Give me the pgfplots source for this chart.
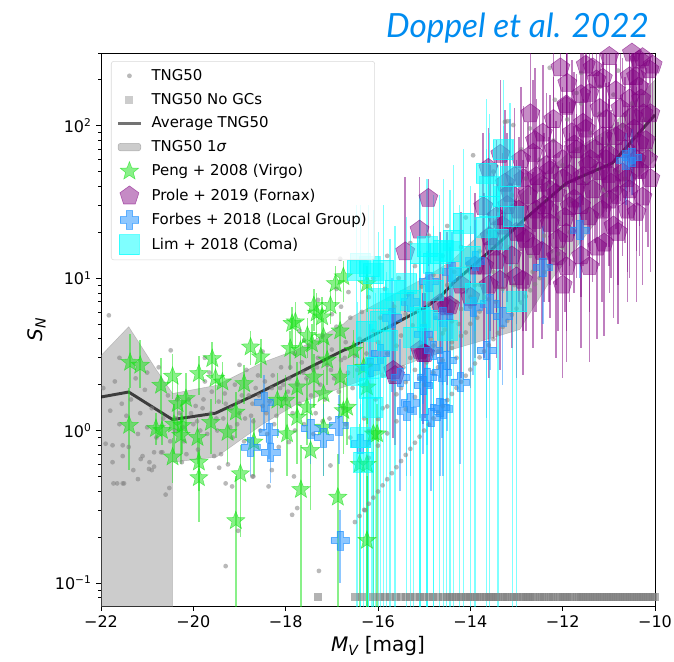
\documentclass[border=0pt]{standalone}
\usepackage{fontspec}
\setmainfont{DejaVu Sans}
\newfontfamily\titlefont{Lato}
\usepackage{pgfplots}
\usepackage{pgfplotstable}
\pgfplotsset{compat=1.18}

\definecolor{pgreen}{RGB}{20,225,20}
\definecolor{ppurple}{RGB}{128,0,128}
\definecolor{pblue}{RGB}{30,144,255}
\definecolor{pcyan}{RGB}{0,255,255}
\definecolor{tblue}{RGB}{0,140,240}

\pgfdeclareplotmark{fstar}{%
  \pgfpathmoveto{\pgfpointpolar{90}{\pgfplotmarksize}}%
  \pgfpathlineto{\pgfpointpolar{126}{0.42\pgfplotmarksize}}%
  \pgfpathlineto{\pgfpointpolar{162}{\pgfplotmarksize}}%
  \pgfpathlineto{\pgfpointpolar{198}{0.42\pgfplotmarksize}}%
  \pgfpathlineto{\pgfpointpolar{234}{\pgfplotmarksize}}%
  \pgfpathlineto{\pgfpointpolar{270}{0.42\pgfplotmarksize}}%
  \pgfpathlineto{\pgfpointpolar{306}{\pgfplotmarksize}}%
  \pgfpathlineto{\pgfpointpolar{342}{0.42\pgfplotmarksize}}%
  \pgfpathlineto{\pgfpointpolar{18}{\pgfplotmarksize}}%
  \pgfpathlineto{\pgfpointpolar{54}{0.42\pgfplotmarksize}}%
  \pgfpathclose
  \pgfusepathqfillstroke
}
\pgfdeclareplotmark{fplus}{%
  \pgfpathmoveto{\pgfpoint{-0.34\pgfplotmarksize}{\pgfplotmarksize}}%
  \pgfpathlineto{\pgfpoint{0.34\pgfplotmarksize}{\pgfplotmarksize}}%
  \pgfpathlineto{\pgfpoint{0.34\pgfplotmarksize}{0.34\pgfplotmarksize}}%
  \pgfpathlineto{\pgfpoint{\pgfplotmarksize}{0.34\pgfplotmarksize}}%
  \pgfpathlineto{\pgfpoint{\pgfplotmarksize}{-0.34\pgfplotmarksize}}%
  \pgfpathlineto{\pgfpoint{0.34\pgfplotmarksize}{-0.34\pgfplotmarksize}}%
  \pgfpathlineto{\pgfpoint{0.34\pgfplotmarksize}{-\pgfplotmarksize}}%
  \pgfpathlineto{\pgfpoint{-0.34\pgfplotmarksize}{-\pgfplotmarksize}}%
  \pgfpathlineto{\pgfpoint{-0.34\pgfplotmarksize}{-0.34\pgfplotmarksize}}%
  \pgfpathlineto{\pgfpoint{-\pgfplotmarksize}{-0.34\pgfplotmarksize}}%
  \pgfpathlineto{\pgfpoint{-\pgfplotmarksize}{0.34\pgfplotmarksize}}%
  \pgfpathlineto{\pgfpoint{-0.34\pgfplotmarksize}{0.34\pgfplotmarksize}}%
  \pgfpathclose
  \pgfusepathqfillstroke
}

% Peng + 2008 (Virgo)
\pgfplotstableread[row sep=\\]{
x y lo hi\\
-21.37 2.80 1.9 4.3\\ -21.15 2.68 1.9 3.9\\ -20.70 1.98 1.3 3.0\\ -20.45 2.27 1.6 3.2\\
-21.39 1.08 0.55 1.9\\ -20.81 1.03 0.8 1.3\\ -20.68 1.00 0.8 1.3\\ -20.34 1.50 1.0 2.2\\
-20.16 1.62 1.0 2.4\\ -19.88 2.36 1.7 3.1\\ -19.59 2.96 2.2 3.8\\ -19.52 2.20 1.5 3.0\\
-19.37 2.08 1.5 2.8\\ -18.76 3.53 2.7 4.5\\ -18.54 3.04 2.2 4.0\\ -18.90 2.03 1.5 2.7\\
-17.86 5.04 3.5 6.5\\ -17.90 3.45 2.5 4.5\\ -18.00 1.58 0.9 2.3\\ -19.08 1.32 0.9 1.8\\
-19.62 1.13 0.7 1.6\\ -20.42 1.10 0.7 1.5\\ -20.27 0.93 0.6 1.3\\ -19.91 0.90 0.6 1.2\\
-19.26 0.97 0.6 1.4\\ -18.69 0.84 0.5 1.2\\ -20.24 1.08 0.7 1.5\\ -20.45 0.67 0.45 0.9\\
-19.88 0.62 0.4 0.9\\ -19.88 0.49 0.25 0.75\\ -18.98 0.52 0.2 0.8\\ -19.08 0.256 0.05 0.5\\
-17.67 0.41 0.05 0.8\\ -16.87 0.365 0.05 0.7\\ -16.24 0.19 0.05 0.5\\ -16.02 0.95 0.05 1.5\\
-16.40 0.60 0.05 1.1\\ -17.33 5.9 4 8\\ -17.53 4.2 3 5.5\\ -17.03 6.6 5 8.5\\
-16.75 10.2 7 13\\ -16.92 9.2 6.5 12\\ -16.24 9.2 6 12\\ -17.39 6.6 4.5 8.5\\
-17.79 5.16 3.5 7\\ -17.21 5.56 4 7.5\\ -17.18 4.1 2.8 5.5\\ -16.82 4.5 3 6\\
-17.43 3.7 2.5 5\\ -17.68 3.36 2.3 4.6\\ -17.10 2.9 2 4\\ -16.53 3.36 2.2 4.6\\
-17.39 2.24 1.4 3.2\\ -16.82 2.24 1.4 3.2\\ -17.75 1.93 1.2 2.8\\ -17.18 1.74 1.1 2.5\\
-16.31 2.6 1.6 3.8\\ -16.24 1.93 1.1 3\\ -17.54 1.42 0.8 2.2\\ -16.67 1.42 0.8 2.2\\
-18.18 1.58 0.9 2.4\\ -16.75 1.35 0.7 2.1\\ -16.10 0.95 0.05 1.6\\ -17.18 1.05 0.5 1.7\\
-17.46 0.74 0.3 1.3\\ -17.97 0.95 0.5 1.5\\ -17.75 1.22 0.6 1.9\\ -16.24 0.60 0.05 1.2\\
}\peng

% Prole + 2019 (Fornax)
\pgfplotstableread[row sep=\\]{
x y lo hi\\
-15.41 14.9 6 46\\ -15.10 20.7 8 46\\ -14.91 33.4 12 45\\ -13.61 52.6 18 96\\
-14.44 6.6 2.5 16\\ -14.98 3.2 1.2 8\\ -13.04 46.4 14 130\\ -12.43 89.5 25 250\\
-11.92 134 40 400\\ -11.27 200 60 500\\ -10.99 285 80 600\\ -10.55 210 60 500\\
-10.27 280 90 600\\ -12.57 28 6 90\\ -12.28 38 9 120\\ -11.70 69.5 18 220\\
-11.56 104 30 300\\ -11.13 85 25 260\\ -10.48 115 35 350\\ -10.34 77 22 250\\
-10.70 49 14 160\\ -12.14 13.8 3 45\\ -11.92 19.7 4.5 60\\ -11.42 25.3 6 80\\
-10.99 32.5 8 100\\ -12.64 16.1 3.5 50\\ -13.00 10.2 2.2 32\\ -13.43 13.1 3 40\\
-12.86 19.7 4.5 60\\ -12.28 51 12 160\\ -12.64 66 16 200\\ -12.57 46.5 11 150\\
-13.14 36 9 110\\ -13.72 29.5 7 90\\ -13.43 25.3 6 80\\ -14.51 6.5 2 20\\
-15.09 3.36 1.2 9\\ -15.67 2.48 0.9 7\\ -14.66 6.8 2.2 20\\ -13.58 18.7 4.5 55\\
-13.36 9.7 2.5 30\\ -12.86 9.7 2.3 30\\ -10.34 51 14 160\\ -10.12 233 70 500\\
-11.06 60 16 190\\ -11.56 46.5 12 150\\ -11.85 29.5 7 90\\ -12.28 22.9 5.5 70\\
-11.42 11.9 2.8 38\\ -11.92 11.9 2.8 38\\ -10.55 38 10 120\\ -10.27 34 9 110\\
-15.63 2.3 0.8 6\\ -15.02 3.2 1.1 8\\ -13.20 30 7 90\\ -12.90 60 15 180\\
-12.70 120 35 350\\ -12.40 30 7 90\\ -12.20 70 18 210\\ -12.00 45 11 140\\
-11.80 90 25 270\\ -11.60 160 45 450\\ -11.40 60 15 180\\ -11.20 130 38 400\\
-11.00 48 12 150\\ -10.85 170 50 500\\ -10.70 90 25 280\\ -10.50 300 90 600\\
-10.30 150 45 450\\ -10.15 60 16 190\\ -10.10 120 35 380\\ -12.05 240 70 600\\
-11.35 240 70 600\\ -11.75 33 8 100\\ -11.25 16 4 50\\ -10.90 22 5.5 70\\
-10.60 28 7 90\\ -13.35 65 18 200\\ -11.13 205 60 500\\ -10.41 210 60 500\\
-10.34 270 80 600\\ -11.42 163 45 450\\ -11.92 137 40 400\\
-13.70 12 3 36\\ -13.50 16 4 48\\ -13.30 22 5.5 66\\ -13.10 14 3.5 42\\
-12.95 28 7 84\\ -12.80 18 4.5 54\\ -12.75 35 9 105\\ -12.60 24 6 72\\
-12.50 42 10 126\\ -12.45 15 4 45\\ -12.35 55 14 165\\ -12.30 28 7 84\\
-12.15 36 9 108\\ -12.10 18 4.5 54\\ -12.00 60 15 180\\ -11.95 25 6 75\\
-11.85 48 12 144\\ -11.75 75 19 225\\ -11.70 40 10 120\\ -11.60 30 7.5 90\\
-11.50 95 24 285\\ -11.45 55 14 165\\ -11.35 38 9.5 114\\ -11.30 70 17 210\\
-11.20 50 12 150\\ -11.15 28 7 84\\ -11.05 110 27 330\\ -11.00 65 16 195\\
-10.95 42 10 126\\ -10.85 85 21 255\\ -10.80 35 9 105\\ -10.75 130 32 390\\
-10.65 70 17 210\\ -10.60 45 11 135\\ -10.55 150 37 450\\ -10.45 95 24 285\\
-10.40 60 15 180\\ -10.35 180 45 540\\ -10.25 120 30 360\\ -10.20 80 20 240\\
-10.10 45 11 135\\ -10.05 250 62 600\\ -12.60 80 20 240\\ -12.20 110 27 330\\
-11.90 190 47 570\\ -11.50 250 62 600\\ -13.00 20 5 60\\ -13.25 42 10 126\\
-12.85 45 11 135\\ -13.60 9 2.2 27\\ -14.00 7.5 1.9 22\\ -14.20 9 2.2 27\\
-13.90 12 3 36\\ -12.00 9 2.2 27\\ -11.60 14 3.5 42\\ -11.10 17 4.2 51\\
-10.80 20 5 60\\ -10.40 27 7 81\\
}\prole

% Forbes + 2018 (Local Group)
\pgfplotstableread[row sep=\\]{
x y lo hi\\
-18.47 1.54 1.0 2.3\\ -18.36 0.97 0.65 1.5\\ -18.76 0.78 0.5 1.2\\ -18.33 0.72 0.45 1.1\\
-17.46 1.03 0.6 1.6\\ -17.18 0.90 0.5 1.5\\ -16.85 1.08 0.6 1.7\\ -16.82 0.19 0.1 0.3\\
-16.38 0.82 0.3 1.5\\ -15.30 1.52 0.5 2.8\\ -14.85 1.22 0.4 2.5\\ -14.59 1.39 0.5 2.7\\
-14.66 1.42 0.5 2.8\\ -15.02 1.98 0.7 3.5\\ -14.62 2.42 0.9 4.5\\ -14.22 2.08 0.6 4.5\\
-15.52 2.24 0.4 4.0\\ -14.51 2.89 1.0 5.5\\ -13.65 3.36 1.2 6.5\\ -10.63 59.6 30 90\\
-10.50 62 35 95\\ -11.63 20.7 10 35\\ -12.43 11.8 5 22\\ -13.58 6.8 2.5 13\\
-13.30 5.6 2 11\\ -13.94 6.5 2.3 12\\ -14.80 3.36 1.2 6.5\\ -15.02 4.3 1.5 8\\
-14.60 5.6 2 11\\ -14.94 2.24 0.8 4.5\\ -15.38 1.35 0.5 2.7\\ -15.95 3.2 1.0 6\\
-16.17 2.6 0.8 5\\ -15.70 5.5 1.8 10\\ -15.30 7.0 2.4 13\\ -14.90 9.5 3.3 17\\
-14.40 11 4 20\\ -13.90 13 4.5 24\\
}\forbes

% Lim + 2018 (Coma)
\pgfplotstableread[row sep=\\]{
x y lo hi\\
-16.38 12.5 0.05 30\\ -16.10 10.7 0.05 28\\ -15.99 7.35 0.05 20\\ -15.63 8.3 0.05 22\\
-15.74 6.8 0.05 18\\ -15.30 7.2 0.05 20\\ -15.09 14.5 0.05 35\\ -14.66 14.5 0.05 35\\
-14.44 14.9 0.05 38\\ -14.80 8.3 0.05 22\\ -15.09 5.56 0.05 15\\ -14.51 4.54 0.05 14\\
-16.13 1.42 0.05 5\\ -16.38 0.90 0.05 3.5\\ -16.31 0.62 0.05 2.8\\ -13.29 69.6 20 200\\
-13.65 48.8 15 150\\ -13.14 46.4 12 140\\ -13.58 39.8 10 120\\ -13.29 34.2 8 100\\
-13.58 29.5 0.05 90\\ -13.08 25.3 0.05 80\\ -13.65 21.7 0.05 70\\ -14.15 22.9 0.05 70\\
-14.37 17.7 0.05 55\\ -14.59 15.3 0.05 45\\ -14.94 16.1 0.05 45\\ -15.88 11.3 0.05 30\\
-14.80 12.5 0.05 35\\ -14.23 10.2 0.05 30\\ -15.38 9.2 0.05 25\\ -14.94 5.3 0.05 15\\
-15.23 4.1 0.05 12\\ -15.81 3.9 0.05 11\\ -16.20 1.9 0.05 6\\ -16.05 2.6 0.05 8\\
-16.45 2.3 0.05 7\\ -16.25 4.5 0.05 12\\ -15.95 5.2 0.05 14\\ -16.46 11.3 0.05 30\\
-16.20 11.9 0.05 30\\ -13.90 8.0 0.05 25\\ -14.00 14 0.05 40\\ -13.40 18 0.05 55\\
-13.00 7 0.05 22\\
}\lim

\begin{document}
\begin{tikzpicture}
\path[use as bounding box] (-75.75pt,-41.25pt) rectangle (429.75pt,454.5pt);
\begin{axis}[
  at={(0pt,0pt)}, anchor=south west,
  scale only axis, width=415.5pt, height=414.75pt,
  xmin=-22, xmax=-10, ymode=log, ymin=0.0706, ymax=300,
  xtick={-22,-20,-18,-16,-14,-12,-10},
  xticklabels={−22,−20,−18,−16,−14,−12,−10},
  ytick={0.1,1,10,100},
  yticklabels={10\textsuperscript{−1},10\textsuperscript{0},10\textsuperscript{1},10\textsuperscript{2}},
  minor ytick={0.08,0.09,0.2,0.3,0.4,0.5,0.6,0.7,0.8,0.9,2,3,4,5,6,7,8,9,20,30,40,50,60,70,80,90,200,300},
  tick align=outside, tick pos=left,
  major tick length=3.5pt, minor tick length=2pt,
  tick style={black, line width=0.6pt},
  axis line style={line width=0.6pt},
  tick label style={font=\fontsize{12}{14}\selectfont},
  xlabel={{\itshape M}\textsubscript{\itshape V} [mag]},
  ylabel={{\itshape S}\textsubscript{\itshape N}},
  label style={font=\fontsize{15}{18}\selectfont},
  legend cell align=left,
  legend style={at={(rel axis cs:0.018,0.9855)}, anchor=north west,
    font=\fontsize{11.2}{13}\selectfont, draw=black!15, rounded corners=2pt,
    fill=white, fill opacity=0.8, text opacity=1, row sep=4pt,
    inner xsep=4pt, inner ysep=4pt,
    /tikz/every odd column/.append style={column sep=5pt}},
]
% legend images
\addlegendimage{only marks, mark=*, mark size=1.8pt, color=gray, mark options={fill opacity=0.55, draw opacity=0}}
\addlegendentry{TNG50}
\addlegendimage{only marks, mark=square*, mark size=3pt, color=gray, mark options={fill opacity=0.4, draw opacity=0}}
\addlegendentry{TNG50 No GCs}
\addlegendimage{black, opacity=0.55, line width=2.2pt}
\addlegendentry{Average TNG50}
\addlegendimage{area legend, fill=gray, fill opacity=0.4, draw=gray, draw opacity=0.5}
\addlegendentry{TNG50 1{\itshape σ}}
\addlegendimage{only marks, mark=fstar, mark size=7.2pt, mark options={fill=pgreen, draw=pgreen, fill opacity=0.5, draw opacity=0.6}}
\addlegendentry{Peng + 2008 (Virgo)}
\addlegendimage{only marks, mark=pentagon*, mark size=7.5pt, mark options={fill=ppurple, draw=ppurple, fill opacity=0.45, draw opacity=0.55}}
\addlegendentry{Prole + 2019 (Fornax)}
\addlegendimage{only marks, mark=fplus, mark size=7pt, mark options={fill=pblue, draw=pblue, fill opacity=0.5, draw opacity=0.6}}
\addlegendentry{Forbes + 2018 (Local Group)}
\addlegendimage{only marks, mark=square*, mark size=7.5pt, mark options={fill=pcyan, draw=pcyan, fill opacity=0.5, draw opacity=0.6}}
\addlegendentry{Lim + 2018 (Coma)}

% TNG50 galaxies
\addplot[forget plot, only marks, mark=*, mark size=1.8pt, color=gray, mark options={fill opacity=0.55, draw opacity=0}] coordinates {
(-21.95,1.9) (-21.9,0.82) (-21.83,5.7) (-21.8,1.35) (-21.75,0.62) (-21.7,2.1) (-21.65,0.45) (-21.6,1.1)
(-21.55,1.5) (-21.5,0.45) (-21.45,1.25) (-21.4,0.78) (-21.35,1.6) (-21.3,0.55) (-21.25,2.2) (-21.2,0.95)
(-21.15,1.3) (-21.1,0.68) (-21.05,1.85) (-21.0,1.05) (-20.95,0.62) (-20.9,1.4) (-20.85,0.58) (-20.8,0.9)
(-20.75,2.6) (-20.7,0.72) (-20.65,1.2) (-20.6,0.38) (-20.55,1.7) (-20.5,0.85) (-21.6,3.0) (-21.2,0.48)
(-20.9,0.55) (-21.0,2.4) (-21.75,0.8) (-21.53,0.8) (-21.53,0.68) (-21.73,0.45) (-21.53,0.45) (-21.14,0.65)
(-20.96,0.56) (-20.52,0.42) (-20.85,0.72) (-20.67,0.72) (-20.49,3.36)
(-20.4,1.0) (-20.3,1.3) (-20.2,0.85) (-20.1,1.6) (-20.0,1.1) (-19.9,0.75) (-19.8,1.4) (-19.7,0.95)
(-19.6,1.8) (-19.5,1.2) (-19.4,0.7) (-19.3,1.5) (-19.2,1.05) (-19.1,2.0) (-19.0,1.3) (-18.9,0.85)
(-18.8,1.7) (-18.7,1.15) (-18.6,2.3) (-18.5,1.45) (-18.4,0.95) (-18.3,1.9) (-18.2,1.25) (-18.1,2.6)
(-18.0,1.6) (-20.35,1.6) (-20.15,0.7) (-19.95,1.45) (-19.75,2.1) (-19.55,0.68) (-19.35,1.2) (-19.15,0.9)
(-18.95,1.7) (-18.75,1.25) (-18.55,1.0) (-18.35,1.55) (-18.15,0.78) (-20.25,0.62) (-19.85,1.0) (-19.45,1.55)
(-19.05,1.1) (-18.65,1.9) (-18.25,1.1) (-18.05,2.0) (-19.65,2.4) (-19.25,0.6) (-18.85,2.5) (-18.45,2.1)
(-19.75,3.0) (-19.0,2.7) (-18.5,3.3) (-18.3,0.55) (-18.7,0.5) (-19.3,0.45)
(-19.3,0.129) (-19.44,0.57) (-19.16,0.43) (-18.72,0.5) (-19.03,0.22) (-18.37,0.43) (-17.93,0.84) (-17.86,0.28)
(-17.75,0.31) (-17.82,0.5) (-17.28,0.12) (-16.28,0.30) (-17.03,0.59)
(-20.38,1.2) (-20.22,1.05) (-20.05,1.3) (-19.92,1.15) (-19.78,1.6) (-19.62,1.3) (-19.48,1.0) (-19.32,1.75)
(-19.18,1.4) (-19.02,1.55) (-18.88,1.2) (-18.72,1.5) (-18.58,1.7) (-18.42,1.3) (-18.28,2.3) (-18.12,1.9)
(-17.95,1.8) (-17.9,2.6) (-17.85,1.3) (-17.8,3.2) (-17.75,2.0) (-17.7,1.5) (-17.65,2.8) (-17.6,1.1)
(-17.55,2.2) (-17.5,3.6) (-17.45,1.7) (-17.4,2.5) (-17.35,1.3) (-17.3,3.0) (-17.25,2.0) (-17.2,4.2)
(-17.15,1.6) (-17.1,2.7) (-17.05,1.2) (-17.0,3.4) (-16.95,2.2) (-16.9,4.8) (-16.85,1.8) (-16.8,2.9)
(-16.75,1.4) (-16.7,3.8) (-16.65,2.4) (-16.6,5.5) (-16.55,1.9) (-16.5,3.1) (-17.8,1.0) (-17.6,3.9)
(-17.4,0.95) (-17.2,1.15) (-17.0,5.8) (-16.8,6.5) (-16.6,0.9) (-17.3,7.2) (-16.9,8.5) (-17.7,4.5)
(-16.7,1.1) (-16.82,13.4) (-16.64,8.1) (-17.92,2.2) (-17.62,2.4) (-17.32,2.6) (-17.02,2.5) (-16.72,3.0)
(-16.45,2.5) (-16.4,4.0) (-16.35,6.0) (-16.3,2.0) (-16.25,3.2) (-16.2,7.5) (-16.15,2.7) (-16.1,4.5)
(-16.05,1.6) (-16.0,3.8) (-15.95,5.5) (-15.9,2.3) (-15.85,8.5) (-15.8,3.2) (-15.75,4.8) (-15.7,2.1)
(-15.65,6.5) (-15.6,3.6) (-15.55,10) (-15.5,4.2) (-15.45,2.6) (-15.4,5.8) (-15.35,7.8) (-15.3,3.0)
(-15.25,4.9) (-15.2,12) (-15.15,6.2) (-15.1,3.5) (-15.05,8.8) (-15.0,5.0) (-14.95,2.8) (-14.9,6.8)
(-14.85,4.0) (-14.8,10.5) (-14.75,5.5) (-14.7,3.3) (-14.65,7.5) (-14.6,14) (-14.55,4.6) (-14.5,9.0)
(-14.45,6.0) (-14.4,3.8) (-14.35,11) (-14.3,7.0) (-14.25,5.0) (-14.2,16) (-14.15,8.5) (-14.1,4.4)
(-14.05,12.5) (-14.0,6.5) (-16.3,1.2) (-15.9,1.4) (-15.5,1.9) (-15.1,2.2) (-14.7,2.6) (-14.3,3.0)
(-15.8,14) (-15.3,17) (-14.9,19) (-14.5,22) (-14.1,25) (-16.1,10) (-13.94,64) (-13.2,107)
(-13.25,106) (-13.07,101)
(-13.9,9) (-13.8,15) (-13.7,7.5) (-13.6,20) (-13.5,11) (-13.4,28) (-13.3,8.5) (-13.2,16)
(-13.1,35) (-13.0,12) (-12.9,22) (-12.8,45) (-12.7,14) (-12.6,30) (-12.5,60) (-12.4,19)
(-12.3,40) (-12.2,80) (-12.1,25) (-12.0,55) (-11.9,110) (-11.8,32) (-11.7,70) (-11.6,140)
(-11.5,42) (-11.4,90) (-11.3,55) (-11.2,120) (-11.1,38) (-11.0,75) (-10.9,160) (-10.8,50)
(-10.7,100) (-10.6,65) (-10.5,140) (-10.4,85) (-10.3,200) (-10.2,110) (-10.1,70) (-13.85,5.5)
(-13.45,7) (-13.05,9) (-12.65,11) (-12.25,15) (-11.85,20) (-11.45,28) (-11.05,35) (-10.65,45)
(-10.25,60) (-12.28,240) (-11.6,222) (-12.17,148) (-12.71,96) (-11.2,180) (-10.8,230) (-12.9,70)
(-13.5,50) (-11.7,164)
(-16.5,0.251) (-16.4,0.275) (-16.3,0.302) (-16.2,0.331) (-16.1,0.363) (-16.0,0.398) (-15.9,0.437) (-15.8,0.479)
(-15.7,0.525) (-15.6,0.575) (-15.5,0.631) (-15.4,0.692) (-15.3,0.759) (-15.2,0.832) (-15.1,0.912) (-15.0,1.0)
(-14.9,1.096) (-14.8,1.202) (-14.7,1.318) (-14.6,1.445) (-14.5,1.585) (-14.4,1.738) (-14.3,1.905) (-14.2,2.089)
(-14.1,2.291) (-14.0,2.512) (-13.9,2.754) (-13.8,3.020) (-13.7,3.311) (-13.6,3.631) (-13.5,3.981) (-13.4,4.365)
(-13.3,4.786) (-13.2,5.248) (-13.1,5.754) (-13.0,6.310) (-12.9,6.918) (-12.8,7.586) (-12.7,8.318) (-12.6,9.120)
(-12.5,10) (-12.4,10.96) (-12.3,12.02) (-12.2,13.18) (-12.1,14.45) (-12.0,15.85)
(-16.2,0.662) (-16.0,0.796) (-15.8,0.958) (-15.6,1.15) (-15.4,1.38) (-15.2,1.66) (-15.0,2.0) (-14.8,2.40)
(-14.6,2.89) (-14.4,3.48) (-14.2,4.18) (-14.0,5.02) (-13.8,6.04) (-13.6,7.26) (-13.4,8.73) (-13.2,10.5)
(-16.2,0.993) (-16.0,1.19) (-15.8,1.44) (-15.6,1.73) (-15.4,2.08) (-15.2,2.50) (-15.0,3.0) (-14.8,3.61)
(-14.6,4.34) (-14.4,5.21) (-14.2,6.27) (-14.0,7.54) (-13.8,9.06)
};

% TNG50 without GCs
\addplot[forget plot, only marks, mark=square*, mark size=3pt, color=gray, mark options={fill opacity=0.6, draw opacity=0}] coordinates {
(-17.3,0.081) (-16.5,0.081) (-16.35,0.081) (-16.1,0.081) (-15.95,0.081) (-15.85,0.081) (-15.75,0.081)
(-15.6,0.081) (-15.5,0.081) (-15.4,0.081) (-15.3,0.081) (-15.2,0.081) (-15.1,0.081) (-15.0,0.081) (-14.9,0.081)
(-14.8,0.081) (-14.7,0.081) (-14.6,0.081) (-14.5,0.081) (-14.4,0.081) (-14.3,0.081) (-14.2,0.081) (-14.1,0.081)
(-14.0,0.081) (-13.9,0.081) (-13.8,0.081) (-13.7,0.081) (-13.6,0.081) (-13.5,0.081) (-13.4,0.081) (-13.3,0.081)
(-13.2,0.081) (-13.1,0.081) (-13.0,0.081) (-12.9,0.081) (-12.8,0.081) (-12.7,0.081) (-12.6,0.081) (-12.5,0.081)
(-12.4,0.081) (-12.3,0.081) (-12.2,0.081) (-12.1,0.081) (-12.0,0.081) (-11.9,0.081) (-11.8,0.081) (-11.7,0.081)
(-11.6,0.081) (-11.5,0.081) (-11.4,0.081) (-11.3,0.081) (-11.2,0.081) (-11.1,0.081) (-11.0,0.081) (-10.9,0.081)
(-10.8,0.081) (-10.7,0.081) (-10.6,0.081) (-10.5,0.081) (-10.4,0.081) (-10.3,0.081) (-10.2,0.081) (-10.1,0.081)
(-10.0,0.081) (-14.45,0.081) (-14.05,0.081) (-13.65,0.081) (-13.25,0.081) (-12.85,0.081) (-12.45,0.081)
(-12.05,0.081) (-11.65,0.081) (-11.25,0.081) (-10.85,0.081) (-10.45,0.081) (-10.05,0.081) (-13.85,0.081)
(-13.05,0.081) (-12.25,0.081) (-11.45,0.081) (-10.65,0.081) (-13.45,0.081) (-12.65,0.081) (-11.85,0.081)
(-11.05,0.081) (-10.25,0.081) (-14.25,0.081) (-13.55,0.081) (-12.75,0.081) (-11.95,0.081) (-11.15,0.081)
(-10.35,0.081) (-10.15,0.081) (-10.55,0.081) (-10.75,0.081) (-10.95,0.081) (-11.35,0.081) (-11.55,0.081)
};

% 1 sigma band
\addplot[forget plot, fill=gray, fill opacity=0.4, draw=gray, draw opacity=0.4] coordinates {
(-22,3.1) (-21.4,4.8) (-20.8,2.5) (-20.45,1.75) (-19.5,1.98) (-18.5,2.8) (-17.75,3.4) (-16.75,5.0)
(-16.6,5.5) (-15,10) (-14.4,13) (-13.6,22) (-12.8,38) (-11.9,65) (-11,95) (-10,200)
(-10,60) (-11,30) (-12.3,9.3) (-12.93,4.6) (-13.6,4.0) (-14.4,3.4) (-15,3.0) (-16.6,2.0)
(-17.75,1.5) (-18.5,1.1) (-19.5,0.67) (-20.45,0.62) (-20.45,0.05) (-22,0.05)
} -- cycle;

% average
\addplot[forget plot, black, opacity=0.7, line width=2.2pt] coordinates {
(-22,1.66) (-21.4,1.79) (-20.45,1.18) (-19.52,1.30) (-18.62,1.74) (-17.75,2.36) (-16.75,3.36)
(-16.6,3.5) (-14.95,6.5) (-14.66,7.5) (-14.37,9.3) (-13.58,15) (-12.78,25) (-11.92,42)
(-10.92,57) (-10.0,118)
};

% Peng
\addplot[forget plot, only marks, mark=fstar, mark size=7.2pt,
  mark options={fill=pgreen, draw=pgreen, fill opacity=0.5, draw opacity=0.6},
  error bars/.cd, y dir=both, y explicit, error mark=none,
  error bar style={pgreen, line width=1.2pt, opacity=0.5}]
  table[x=x, y=y, y error plus expr=\thisrow{hi}-\thisrow{y}, y error minus expr=\thisrow{y}-\thisrow{lo}] {\peng};
% Prole
\addplot[forget plot, only marks, mark=pentagon*, mark size=7.5pt,
  mark options={fill=ppurple, draw=ppurple, fill opacity=0.45, draw opacity=0.55},
  error bars/.cd, y dir=both, y explicit, error mark=none,
  error bar style={ppurple, line width=1.2pt, opacity=0.5}]
  table[x=x, y=y, y error plus expr=\thisrow{hi}-\thisrow{y}, y error minus expr=\thisrow{y}-\thisrow{lo}] {\prole};
% Forbes
\addplot[forget plot, only marks, mark=fplus, mark size=7pt,
  mark options={fill=pblue, draw=pblue, fill opacity=0.5, draw opacity=0.6},
  error bars/.cd, y dir=both, y explicit, error mark=none,
  error bar style={pblue, line width=1.2pt, opacity=0.5}]
  table[x=x, y=y, y error plus expr=\thisrow{hi}-\thisrow{y}, y error minus expr=\thisrow{y}-\thisrow{lo}] {\forbes};
% Lim
\addplot[forget plot, only marks, mark=square*, mark size=7.5pt,
  mark options={fill=pcyan, draw=pcyan, fill opacity=0.5, draw opacity=0.6},
  error bars/.cd, y dir=both, y explicit, error mark=none,
  error bar style={pcyan, line width=0.9pt, opacity=0.5}]
  table[x=x, y=y, y error plus expr=\thisrow{hi}-\thisrow{y}, y error minus expr=\thisrow{y}-\thisrow{lo}] {\lim};
\end{axis}
\node[anchor=base east, text=tblue, font=\titlefont\itshape\fontsize{25}{28}\selectfont] at (414.5pt,426.5pt) {Doppel et al. 2022};
\end{tikzpicture}
\end{document}
